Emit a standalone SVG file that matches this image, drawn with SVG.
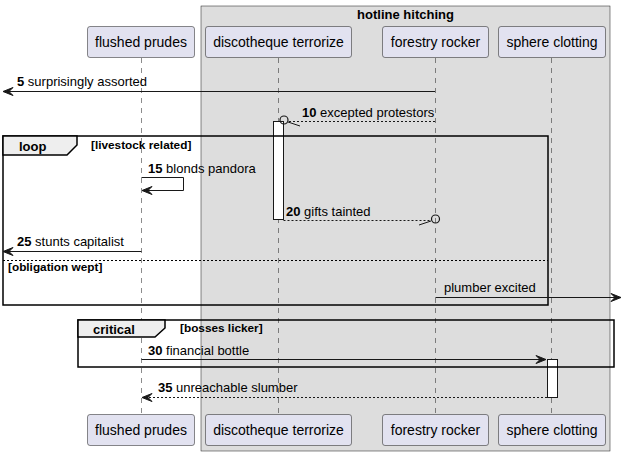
<svg xmlns="http://www.w3.org/2000/svg" width="625" height="455" viewBox="0 0 625 455">
<defs>
<style>
text{font-family:"Liberation Sans",Arial,sans-serif;fill:#000}
.p rect{fill:#E2E2F0;stroke:#181818;stroke-width:0.5}
.p text{font-size:14px}
.life{stroke:#181818;stroke-width:0.5;stroke-dasharray:5,5}
.m{font-size:13px}
.b{font-weight:bold}
.g{font-size:11.8px;font-weight:bold}
.sol{stroke:#181818;stroke-width:1;fill:none}
.dash{stroke:#181818;stroke-width:1;fill:none;stroke-dasharray:2,2}
.ah{fill:#181818;stroke:#181818;stroke-width:1}
.frame{fill:none;stroke:#000;stroke-width:1.5}
.tab{fill:#EEEEEE;stroke:#000;stroke-width:1.5}
.act{fill:#FFFFFF;stroke:#181818;stroke-width:1}
</style>
</defs>
<g id="box-hotline-hitching">
<rect x="201" y="6" width="409" height="445" fill="#DDDDDD" stroke="#181818" stroke-width="0.5"/>
<text x="405.5" y="19" text-anchor="middle" class="b" font-size="13">hotline hitching</text>
</g>
<g id="lifelines">
<line class="life" x1="141.5" y1="58" x2="141.5" y2="414"/>
<line class="life" x1="278.5" y1="58" x2="278.5" y2="414"/>
<line class="life" x1="435.5" y1="58" x2="435.5" y2="414"/>
<line class="life" x1="551.5" y1="58" x2="551.5" y2="414"/>
</g>
<g id="flushed-prudes" class="p">
<rect x="87.5" y="26.5" width="107" height="31" rx="2.5"/>
<text x="141" y="47" text-anchor="middle">flushed prudes</text>
<rect x="87.5" y="414.5" width="107" height="31" rx="2.5"/>
<text x="141" y="435" text-anchor="middle">flushed prudes</text>
</g>
<g id="discotheque-terrorize" class="p">
<rect x="205.5" y="26.5" width="146" height="31" rx="2.5"/>
<text x="278.5" y="47" text-anchor="middle">discotheque terrorize</text>
<rect x="205.5" y="414.5" width="146" height="31" rx="2.5"/>
<text x="278.5" y="435" text-anchor="middle">discotheque terrorize</text>
</g>
<g id="forestry-rocker" class="p">
<rect x="382.5" y="26.5" width="106" height="31" rx="2.5"/>
<text x="435.5" y="47" text-anchor="middle">forestry rocker</text>
<rect x="382.5" y="414.5" width="106" height="31" rx="2.5"/>
<text x="435.5" y="435" text-anchor="middle">forestry rocker</text>
</g>
<g id="sphere-clotting" class="p">
<rect x="498.5" y="26.5" width="107" height="31" rx="2.5"/>
<text x="552" y="47" text-anchor="middle">sphere clotting</text>
<rect x="498.5" y="414.5" width="107" height="31" rx="2.5"/>
<text x="552" y="435" text-anchor="middle">sphere clotting</text>
</g>
<g id="activations">
<rect class="act" x="273.5" y="121.5" width="10" height="98"/>
<rect class="act" x="547.5" y="359.5" width="10" height="38"/>
</g>
<g id="frames">
<rect class="frame" x="3" y="136" width="545" height="169"/>
<path class="tab" d="M3,136 L77,136 L77,145 L67,155 L3,155 Z"/>
<text x="19" y="151" class="b" font-size="13">loop</text>
<text x="91" y="149" class="g">[livestock related]</text>
<line x1="3" y1="260.5" x2="548" y2="260.5" stroke="#000" stroke-width="1" stroke-dasharray="2,2"/>
<text x="8" y="271" class="g">[obligation wept]</text>
<rect class="frame" x="78" y="320" width="536" height="47"/>
<path class="tab" d="M78,320 L165,320 L165,328 L155,337 L78,337 Z"/>
<text x="93" y="334" class="b" font-size="13">critical</text>
<text x="180" y="332" class="g">[bosses licker]</text>
</g>
<g id="connectors">
<line class="sol" x1="435" y1="91.5" x2="3" y2="91.5"/>
<polygon class="ah" points="3,91.5 13,87.5 9,91.5 13,95.5"/>
<text x="17" y="86" class="m"><tspan class="b">5</tspan> surprisingly assorted</text>

<line class="dash" x1="435" y1="121.5" x2="288" y2="121.5"/>
<circle cx="284" cy="120" r="4" fill="none" stroke="#181818" stroke-width="1.2"/>
<line x1="288" y1="122" x2="300" y2="126" stroke="#181818" stroke-width="1"/>
<text x="302" y="117" class="m"><tspan class="b">10</tspan> excepted protestors</text>

<polyline class="sol" points="141.5,177.5 183.5,177.5 183.5,190.5 142,190.5"/>
<polygon class="ah" points="142,190.5 152,186.5 148,190.5 152,194.5"/>
<text x="148" y="173" class="m"><tspan class="b">15</tspan> blonds pandora</text>

<line class="dash" x1="283.5" y1="220.5" x2="431" y2="220.5"/>
<circle cx="435.5" cy="219" r="4" fill="none" stroke="#181818" stroke-width="1.2"/>
<line x1="431" y1="221" x2="419" y2="225" stroke="#181818" stroke-width="1"/>
<text x="286" y="216" class="m"><tspan class="b">20</tspan> gifts tainted</text>

<line class="sol" x1="141.5" y1="251.5" x2="3" y2="251.5"/>
<polygon class="ah" points="3,251.5 13,247.5 9,251.5 13,255.5"/>
<text x="17" y="246" class="m"><tspan class="b">25</tspan> stunts capitalist</text>

<line class="sol" x1="435.5" y1="297.5" x2="621" y2="297.5"/>
<polygon class="ah" points="621,297.5 611,293.5 615,297.5 611,301.5"/>
<text x="444" y="292" class="m">plumber excited</text>

<line class="sol" x1="141.5" y1="359.5" x2="546" y2="359.5"/>
<polygon class="ah" points="546,359.5 536,355.5 540,359.5 536,363.5"/>
<text x="148" y="355" class="m"><tspan class="b">30</tspan> financial bottle</text>

<line class="dash" x1="547" y1="397.5" x2="143" y2="397.5"/>
<polygon class="ah" points="142,397.5 152,393.5 148,397.5 152,401.5"/>
<text x="158" y="392" class="m"><tspan class="b">35</tspan> unreachable slumber</text>
</g>
</svg>
